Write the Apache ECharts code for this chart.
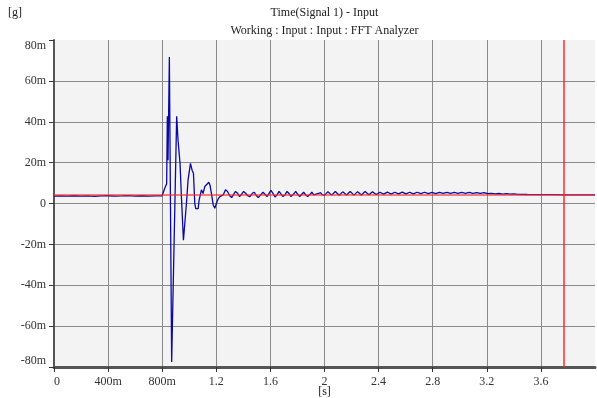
<!DOCTYPE html>
<html>
<head>
<meta charset="utf-8">
<script src="https://cdn.jsdelivr.net/npm/echarts@6/dist/echarts.min.js"></script>
<style>
html,body{margin:0;padding:0;background:#fff;}
#chart{width:597px;height:398px;}
</style>
</head>
<body>
<div id="chart"></div>
<script>
// ---- data (time in s, acceleration in milli-g) ----
var titleText = "Time(Signal 1) - Input";
var subtitleText = "Working : Input : Input : FFT Analyzer";
var yUnit = "[g]";
var xUnit = "[s]";
var xTickLabels = ["0", "400m", "800m", "1.2", "1.6", "2", "2.4", "2.8", "3.2", "3.6"];
var yTickLabels = ["-80m", "-60m", "-40m", "-20m", "0", "20m", "40m", "60m", "80m"];

var times = [
  0, 0.05, 0.10, 0.15, 0.20, 0.25, 0.30, 0.35, 0.40, 0.45, 0.50, 0.55, 0.60, 0.65, 0.70, 0.75, 0.80, 0.81,
  0.818, 0.833, 0.838, 0.843, 0.853, 0.870, 0.907, 0.917, 0.932, 0.942, 0.957, 0.967, 0.981, 0.991,
  1.009, 1.021, 1.031, 1.041, 1.048, 1.058, 1.066, 1.073, 1.083, 1.090, 1.102, 1.115, 1.127, 1.145,
  1.154, 1.164, 1.177, 1.189, 1.201, 1.214, 1.226, 1.238, 1.251, 1.268, 1.283, 1.298, 1.313, 1.328,
  1.342, 1.357, 1.372, 1.387, 1.402, 1.417, 1.431, 1.449, 1.466, 1.481, 1.496, 1.510, 1.523, 1.545,
  1.560, 1.575, 1.589, 1.604, 1.619, 1.634, 1.649, 1.664, 1.678, 1.693, 1.708, 1.723, 1.738, 1.752,
  1.770, 1.787, 1.802, 1.817, 1.832, 1.846, 1.861, 1.876, 1.894, 1.906, 1.921, 1.935, 1.955, 1.970,
  1.985, 2.000, 2.025, 2.053, 2.080, 2.108, 2.135, 2.163, 2.190, 2.218, 2.245, 2.273, 2.300, 2.328,
  2.355, 2.383, 2.410, 2.437, 2.465, 2.492, 2.520, 2.547, 2.575, 2.602, 2.630, 2.657, 2.685, 2.712,
  2.740, 2.767, 2.795, 2.822, 2.850, 2.877, 2.905, 2.932, 2.960, 2.987, 3.015, 3.042, 3.070, 3.097,
  3.125, 3.152, 3.180, 3.207, 3.235, 3.262, 3.290, 3.317, 3.345, 3.372, 3.400, 3.430, 3.500, 3.600,
  3.700, 3.770, 3.850, 3.950, 4.000
];
var values = [
  3.6, 3.7, 3.6, 3.8, 3.6, 3.7, 3.5, 3.7, 3.8, 3.6, 3.7, 3.9, 3.6, 3.8, 3.6, 3.7, 3.8, 4.2,
  7.3, 9.7, 42.7, 21.2, 71.7, -77.5, 42.7, 31.0, 19.6, 3.3, -18.0, -18.0, 1.6, 11.4,
  19.6, 16.3, 14.8, 0.0, -2.5, -2.9, -2.5, 1.6, 1.9, 6.7, 4.9, 8.3, 7.5, 10.4,
  8.8, 5.0, -0.7, -2.3, 0.1, 2.3, 3.4, 2.9, 4.2, 6.7, 5.9, 3.9, 2.9, 4.5,
  5.9, 5.0, 3.4, 4.5, 5.9, 5.0, 3.9, 3.4, 5.0, 5.5, 3.9, 2.9, 2.2, 5.5,
  4.5, 3.4, 4.2, 6.4, 5.0, 3.2, 4.2, 5.9, 5.0, 3.4, 4.2, 5.9, 4.9, 3.4,
  4.5, 5.9, 4.5, 3.4, 4.5, 5.5, 4.2, 3.4, 4.5, 5.5, 4.2, 3.4, 4.9, 5.3,
  4.2, 4.0, 5.8, 4.1, 5.9, 4.0, 5.7, 4.2, 5.9, 4.1, 5.8, 4.2, 5.9, 4.3,
  5.7, 4.4, 5.5, 4.6, 5.6, 4.6, 5.5, 4.7, 5.6, 4.7, 5.5, 4.7, 5.5, 4.8,
  5.5, 4.8, 5.4, 4.8, 5.4, 4.9, 5.4, 4.9, 5.4, 5.0, 5.4, 5.0, 5.4, 5.0,
  5.3, 5.0, 5.3, 4.8, 5.0, 4.7, 4.9, 4.6, 4.8, 4.6, 4.7, 4.5, 4.4, 4.3,
  4.3, 4.2, 4.2, 4.2, 4.2
];
var refLevel = 4.1;      // red horizontal reference
var cursorTime = 3.766;  // red vertical cursor

var seriesData = times.map(function (t, i) { return [t, values[i]]; });

var FONT = "'Liberation Serif', 'DejaVu Serif', serif";
var chart = echarts.init(document.getElementById('chart'), null, {renderer: 'canvas'});
var xMap = {}; [0,0.4,0.8,1.2,1.6,2,2.4,2.8,3.2,3.6].forEach(function (v, i) { xMap[v.toFixed(1)] = xTickLabels[i]; });
var yMap = {}; [-80,-60,-40,-20,0,20,40,60,80].forEach(function (v, i) { yMap[v] = yTickLabels[i]; });

chart.setOption({
  animation: false,
  backgroundColor: '#ffffff',
  grid: {left: 54, right: 2, top: 40, bottom: 31, show: true, backgroundColor: '#f3f3f3', borderWidth: 0},
  graphic: [
    {type: 'text', left: 8, top: 7, style: {text: yUnit, font: "12px " + FONT, fill: '#222'}},
    {type: 'text', x: 324.5, y: 13, style: {text: titleText, font: "12px " + FONT, fill: '#222', align: 'center', verticalAlign: 'middle'}},
    {type: 'text', x: 324.5, y: 31, style: {text: subtitleText, font: "12px " + FONT, fill: '#222', align: 'center', verticalAlign: 'middle'}},
    {type: 'text', x: 324.5, y: 392, style: {text: xUnit, font: "12px " + FONT, fill: '#222', align: 'center', verticalAlign: 'middle'}}
  ],
  xAxis: {
    type: 'value', min: 0, max: 4.0, interval: 0.4,
    axisLine: {show: true, onZero: false, lineStyle: {color: '#555', width: 3}},
    axisTick: {show: true, length: 5, lineStyle: {color: '#333', width: 1}},
    axisLabel: {
      margin: 9, color: '#333', fontFamily: FONT, fontSize: 12, showMaxLabel: false,
      alignMinLabel: 'left',
      formatter: function (v) { var k = (+v).toFixed(1); return xMap[k] !== undefined ? xMap[k] : ''; }
    },
    splitLine: {show: true, showMinLine: false, showMaxLine: false, lineStyle: {color: '#8a8a8a', width: 1}}
  },
  yAxis: {
    type: 'value', min: -80, max: 80, interval: 20,
    axisLine: {show: true, onZero: false, lineStyle: {color: '#555', width: 2}},
    axisTick: {show: true, length: 5, lineStyle: {color: '#333', width: 1}},
    axisLabel: {
      margin: 8, color: '#333', fontFamily: FONT, fontSize: 12,
      verticalAlignMaxLabel: 'top', verticalAlignMinLabel: 'bottom',
      formatter: function (v) { return yMap[Math.round(v)] !== undefined ? yMap[Math.round(v)] : ''; }
    },
    splitLine: {show: true, showMinLine: false, showMaxLine: false, lineStyle: {color: '#8a8a8a', width: 1}}
  },
  series: [
    {
      type: 'line', data: seriesData, showSymbol: false, symbol: 'none', z: 2,
      lineStyle: {color: '#0a0aa0', width: 1.3}, silent: true
    },
    {
      type: 'line', data: [], z: 5, silent: true,
      markLine: {
        silent: true, symbol: ['none', 'none'], label: {show: false}, animation: false,
        data: [
          {yAxis: refLevel, lineStyle: {color: 'rgba(255,40,40,0.6)', width: 2, type: 'solid'}},
          {xAxis: cursorTime, lineStyle: {color: '#ff2a2a', width: 1.5, type: 'solid'}}
        ]
      }
    }
  ]
});
</script>
</body>
</html>
